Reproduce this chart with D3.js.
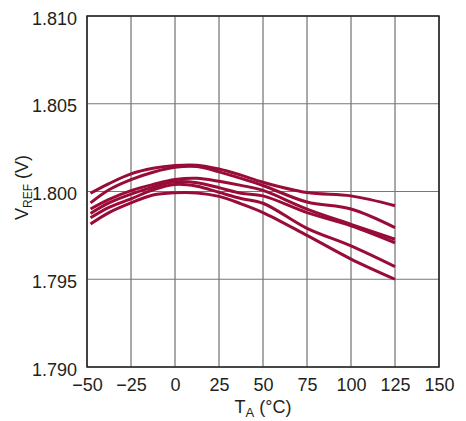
<!DOCTYPE html>
<html lang="en">
	<head>
		<meta charset="UTF-8" />
		<title>VREF vs Temperature</title>
		<script src="https://d3js.org/d3.v7.min.js"></script>
		<style>
			body {
				margin: 0;
				background: #fff;
			}
			text {
				font-family: "Liberation Sans Narrow", "Liberation Sans", Arial, sans-serif;
				fill: #231f20;
			}
		</style>
	</head>
	<body>
		<svg id="chart"></svg>
		<script>
			// temperature points (deg C) and VREF readings for each unit
			const temps = [-48, -37.5, -25, -12.5, 0, 12.5, 25, 37.5, 50, 75, 100, 125];
			const unitA = [1.7999, 1.80045, 1.801, 1.80132, 1.80148, 1.8015, 1.80128, 1.80093, 1.80053, 1.79994, 1.79975, 1.79919];
			const unitB = [1.79935, 1.8001, 1.80068, 1.8011, 1.80138, 1.80142, 1.80112, 1.80075, 1.80034, 1.7994, 1.799, 1.79794];
			const unitC = [1.799, 1.79955, 1.80005, 1.8004, 1.80068, 1.80075, 1.80058, 1.80035, 1.80006, 1.799, 1.79813, 1.79728];
			const unitD = [1.79875, 1.79935, 1.79985, 1.80025, 1.80055, 1.8005, 1.80022, 1.7999, 1.79975, 1.7988, 1.79805, 1.79708];
			const unitE = [1.7985, 1.7991, 1.79958, 1.8001, 1.8004, 1.8003, 1.79995, 1.7996, 1.79933, 1.7979, 1.7969, 1.79572];
			const unitF = [1.79815, 1.7988, 1.79935, 1.7998, 1.79993, 1.79992, 1.79972, 1.7993, 1.7988, 1.7975, 1.79615, 1.795];
			const units = [unitA, unitB, unitC, unitD, unitE, unitF];

			const xTicks = [-50, -25, 0, 25, 50, 75, 100, 125, 150];
			const yTicks = [1.79, 1.795, 1.8, 1.805, 1.81];

			const W = 466, H = 421;
			const margin = { top: 16, right: 27, bottom: 54, left: 87 };
			const width = W - margin.left - margin.right;
			const height = H - margin.top - margin.bottom;

			const svg = d3.select("#chart")
				.attr("width", W)
				.attr("height", H);

			const g = svg.append("g")
				.attr("transform", `translate(${margin.left},${margin.top})`);

			const x = d3.scaleLinear().domain([-50, 150]).range([0, width]);
			const y = d3.scaleLinear().domain([1.79, 1.81]).range([height, 0]);

			// grid
			g.append("g")
				.selectAll("line")
				.data(xTicks)
				.join("line")
				.attr("x1", d => x(d))
				.attr("x2", d => x(d))
				.attr("y1", 0)
				.attr("y2", height)
				.attr("stroke", "#555")
				.attr("stroke-width", 1);

			g.append("g")
				.selectAll("line")
				.data(yTicks)
				.join("line")
				.attr("x1", 0)
				.attr("x2", width)
				.attr("y1", d => y(d))
				.attr("y2", d => y(d))
				.attr("stroke", "#777")
				.attr("stroke-width", 1);

			// frame
			g.append("rect")
				.attr("width", width)
				.attr("height", height)
				.attr("fill", "none")
				.attr("stroke", "#231f20")
				.attr("stroke-width", 1.5);

			// tick labels via d3 axes, lines hidden
			const xAxis = g.append("g")
				.attr("transform", `translate(0,${height})`)
				.call(d3.axisBottom(x).tickValues(xTicks).tickSize(0).tickPadding(11)
					.tickFormat(d => (d < 0 ? "\u2212" + Math.abs(d) : d)));
			xAxis.select(".domain").remove();
			xAxis.selectAll("text").attr("font-size", 18).attr("fill", "#231f20");

			const yAxis = g.append("g")
				.call(d3.axisLeft(y).tickValues(yTicks).tickSize(0).tickPadding(10)
					.tickFormat(d3.format(".3f")));
			yAxis.select(".domain").remove();
			yAxis.selectAll("text").attr("font-size", 18).attr("fill", "#231f20")
				.attr("dy", "0.45em");
			xAxis.attr("font-family", null);
			yAxis.attr("font-family", null);

			// curves
			const line = d3.line()
				.x((d, i) => x(temps[i]))
				.y(d => y(d))
				.curve(d3.curveCatmullRom.alpha(0.5));

			g.append("g")
				.selectAll("path")
				.data(units)
				.join("path")
				.attr("d", line)
				.attr("fill", "none")
				.attr("stroke", "#980c37")
				.attr("stroke-width", 3)
				.attr("stroke-linecap", "butt")
				.attr("stroke-linejoin", "round");

			// axis titles
			const xt = svg.append("text")
				.attr("x", margin.left + width / 2)
				.attr("y", 413)
				.attr("text-anchor", "middle")
				.attr("font-size", 18);
			xt.append("tspan").text("T");
			xt.append("tspan").attr("font-size", 13).attr("dy", 4).text("A");
			xt.append("tspan").attr("dy", -4).text(" (\u00B0C)");

			const yt = svg.append("text")
				.attr("transform", `translate(28,${margin.top + height / 2 - 4}) rotate(-90)`)
				.attr("text-anchor", "middle")
				.attr("font-size", 18);
			yt.append("tspan").text("V");
			yt.append("tspan").attr("font-size", 12).attr("dy", 4).text("REF");
			yt.append("tspan").attr("dy", -4).text(" (V)");
		</script>
	</body>
</html>
